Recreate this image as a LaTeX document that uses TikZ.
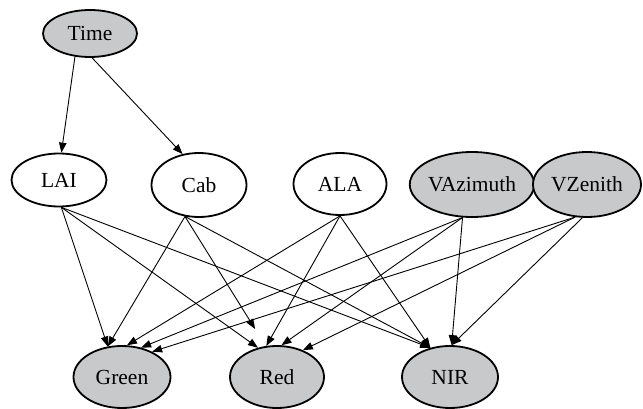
\documentclass[tikz,border=0pt]{standalone}
\usepackage{fontspec}
\setmainfont{Liberation Serif}
\newfontfamily\nodefont{Liberation Serif}
\usetikzlibrary{shapes.geometric,arrows.meta}
\definecolor{nodegray}{RGB}{200,201,203}
\tikzset{
  var/.style={
    ellipse,
    draw=black,
    line width=1.8pt,
    fill=white,
    inner sep=0pt,
    font=\nodefont\fontsize{21.5}{23}\selectfont
  },
  obs/.style={var, fill=nodegray},
  arr/.style={-{Triangle[length=10pt,width=7.5pt]}, line width=0.9pt},
}

\begin{document}
\begin{tikzpicture}[x=1pt, y=-1pt]
  \useasboundingbox (0,0) rectangle (643,409);
  % top level
  \node[obs, minimum width=94pt, minimum height=47pt] (Time) at (90,33.5) {Time};
  % middle row
  \node[var, minimum width=95pt, minimum height=53pt] (LAI) at (59,180) {LAI};
  \node[var, minimum width=95pt, minimum height=64pt] (Cab) at (199,185) {Cab};
  \node[var, minimum width=93pt, minimum height=62pt] (ALA) at (340,184) {ALA};
  \node[obs, minimum width=110pt, minimum height=65pt] (VAzimuth) at (472,184.5) {VAzimuth};
  \node[obs, minimum width=108pt, minimum height=65pt] (VZenith) at (587,184.5) {VZenith};
  % bands
  \node[obs, minimum width=97pt, minimum height=62pt] (Green) at (122,377) {Green};
  \node[obs, minimum width=94pt, minimum height=62pt] (Red) at (277,377) {Red};
  \node[obs, minimum width=96pt, minimum height=62pt] (NIR) at (450,377) {NIR};
  % edges
  \foreach \a/\b in {Time.237/LAI.85, Time.275/Cab.118,
                     LAI.275/Green.115, LAI.275/Red.123, LAI.275/NIR.124,
                     Cab.246/Green.115, Cab.246/NIR.124,
                     ALA.270/Green.81, ALA.270/Red.109, ALA.270/NIR.124,
                     VAzimuth.254/Green.57, VAzimuth.254/Red.82, VAzimuth.254/NIR.87,
                     VZenith.250/Green.40, VZenith.250/Red.46, VZenith.262/NIR.87} {
    \draw[arr] (\a) -- (\b);
  }
  \draw[arr, shorten >=20pt] (Cab.246) -- (Red.110);
\end{tikzpicture}
\end{document}
